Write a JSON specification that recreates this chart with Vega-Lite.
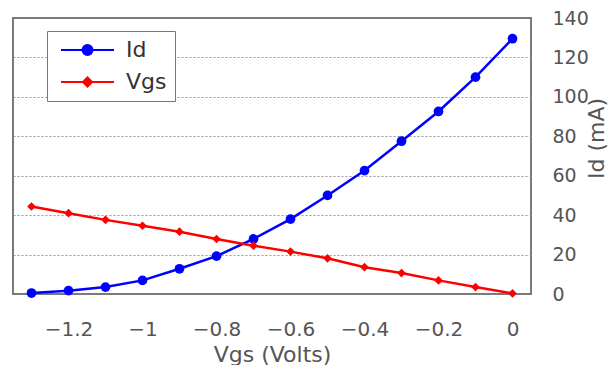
{
  "$schema": "https://vega.github.io/schema/vega-lite/v6.json",
  "width": 518,
  "height": 276,
  "padding": {"left": 13, "top": 9, "right": 0, "bottom": 0},
  "background": "white",
  "config": {
    "font": "DejaVu Sans",
    "view": {"stroke": "#7a7a7a", "strokeWidth": 2}
  },
  "data": {
    "values": [
      {"vgs": -1.3, "series": "Id", "value": 0.5},
      {"vgs": -1.2, "series": "Id", "value": 1.7},
      {"vgs": -1.1, "series": "Id", "value": 3.5},
      {"vgs": -1.0, "series": "Id", "value": 6.9},
      {"vgs": -0.9, "series": "Id", "value": 12.8},
      {"vgs": -0.8, "series": "Id", "value": 19.2},
      {"vgs": -0.7, "series": "Id", "value": 27.9},
      {"vgs": -0.6, "series": "Id", "value": 38.0},
      {"vgs": -0.5, "series": "Id", "value": 50.0},
      {"vgs": -0.4, "series": "Id", "value": 62.6},
      {"vgs": -0.3, "series": "Id", "value": 77.5},
      {"vgs": -0.2, "series": "Id", "value": 92.6},
      {"vgs": -0.1, "series": "Id", "value": 110.0},
      {"vgs": 0.0, "series": "Id", "value": 129.5},
      {"vgs": -1.3, "series": "Vgs", "value": 44.4},
      {"vgs": -1.2, "series": "Vgs", "value": 41.0},
      {"vgs": -1.1, "series": "Vgs", "value": 37.6},
      {"vgs": -1.0, "series": "Vgs", "value": 34.6},
      {"vgs": -0.9, "series": "Vgs", "value": 31.6},
      {"vgs": -0.8, "series": "Vgs", "value": 27.9},
      {"vgs": -0.7, "series": "Vgs", "value": 24.5},
      {"vgs": -0.6, "series": "Vgs", "value": 21.5},
      {"vgs": -0.5, "series": "Vgs", "value": 18.1},
      {"vgs": -0.4, "series": "Vgs", "value": 13.6},
      {"vgs": -0.3, "series": "Vgs", "value": 10.6},
      {"vgs": -0.2, "series": "Vgs", "value": 6.9},
      {"vgs": -0.1, "series": "Vgs", "value": 3.5},
      {"vgs": 0.0, "series": "Vgs", "value": 0.3}
    ]
  },
  "encoding": {
    "x": {
      "field": "vgs",
      "type": "quantitative",
      "scale": {"domain": [-1.35, 0.05], "nice": false, "zero": false},
      "axis": {
        "values": [-1.2, -1, -0.8, -0.6, -0.4, -0.2, 0],
        "format": "~g",
        "ticks": false,
        "domain": false,
        "grid": false,
        "labelFontSize": 20,
        "labelColor": "#555555",
        "labelPadding": 25,
        "title": "Vgs (Volts)",
        "titleFontSize": 22,
        "titleFontWeight": "normal",
        "titleColor": "#555555",
        "titlePadding": 5
      }
    },
    "y": {
      "field": "value",
      "type": "quantitative",
      "scale": {"domain": [0, 140], "nice": false},
      "axis": {
        "orient": "right",
        "values": [0, 20, 40, 60, 80, 100, 120, 140],
        "ticks": false,
        "domain": false,
        "grid": true,
        "gridDash": [2, 2],
        "gridColor": "#999999",
        "gridOpacity": {"condition": {"test": "datum.value === 0 || datum.value === 140", "value": 0}, "value": 1},
        "labelFontSize": 19,
        "labelColor": "#555555",
        "labelAlign": "left",
        "labelPadding": 21,
        "title": "Id (mA)",
        "titleAngle": -90,
        "titleY": 120,
        "titleFontSize": 22,
        "titleFontWeight": "normal",
        "titleColor": "#555555",
        "titlePadding": 20
      }
    },
    "color": {
      "field": "series",
      "type": "nominal",
      "scale": {"domain": ["Id", "Vgs"], "range": ["#0000ff", "#ff0000"]},
      "legend": {
        "orient": "none",
        "legendX": 34,
        "legendY": 13,
        "title": null,
        "fillColor": "white",
        "strokeColor": "#777777",
        "padding": 8,
        "rowPadding": 10,
        "labelFontSize": 22,
        "labelColor": "#333333",
        "labelOffset": 49,
        "symbolSize": 100,
        "symbolStrokeWidth": 2,
        "encode": {
          "symbols": {
            "update": {
              "shape": {"signal": "datum.value === 'Id' ? 'M-1,0L9.6,0M3.3,0A1,1,0,1,0,5.3,0A1,1,0,1,0,3.3,0Z' : 'M-1,0L9.6,0M4.3,-0.9L5.2,0L4.3,0.9L3.4,0Z'"},
              "fill": {"signal": "datum.value === 'Id' ? '#0000ff' : '#ff0000'"},
              "stroke": {"signal": "datum.value === 'Id' ? '#0000ff' : '#ff0000'"},
              "strokeWidth": {"value": 2},
              "opacity": {"value": 1}
            }
          }
        }
      }
    }
  },
  "layer": [
    {"mark": {"type": "line", "strokeWidth": 2.5}},
    {
      "transform": [{"filter": "datum.series === 'Id'"}],
      "mark": {"type": "point", "shape": "circle", "filled": true, "opacity": 1, "size": 95}
    },
    {
      "transform": [{"filter": "datum.series === 'Vgs'"}],
      "mark": {"type": "point", "shape": "diamond", "filled": true, "opacity": 1, "size": 75}
    }
  ]
}
